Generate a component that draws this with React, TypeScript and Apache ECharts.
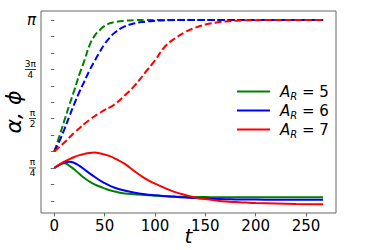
import React, { useEffect, useRef } from "react";
import * as echarts from "echarts";

const PI = Math.PI;
const T = [0, 5, 10, 15, 20, 25, 30, 35, 40, 45, 50, 55, 60, 70, 80, 90, 100, 110, 120, 130, 140, 150, 160, 170, 180, 190, 200, 220, 240, 267];

const phi5 = [1.047, 1.29, 1.54, 1.79, 2.03, 2.28, 2.5, 2.74, 2.89, 2.98, 3.05, 3.09, 3.11, 3.13, 3.14, 3.1416, 3.1416, 3.1416, 3.1416, 3.1416, 3.1416, 3.1416, 3.1416, 3.1416, 3.1416, 3.1416, 3.1416, 3.1416, 3.1416, 3.1416];
const phi6 = [1.047, 1.21, 1.4, 1.61, 1.81, 2.0, 2.17, 2.34, 2.49, 2.63, 2.76, 2.86, 2.94, 3.04, 3.09, 3.115, 3.13, 3.137, 3.1416, 3.1416, 3.1416, 3.1416, 3.1416, 3.1416, 3.1416, 3.1416, 3.1416, 3.1416, 3.1416, 3.1416];
const phi7 = [1.047, 1.12, 1.19, 1.27, 1.35, 1.42, 1.49, 1.55, 1.61, 1.66, 1.71, 1.75, 1.8, 1.94, 2.1, 2.3, 2.5, 2.72, 2.85, 2.95, 3.02, 3.07, 3.1, 3.12, 3.13, 3.137, 3.14, 3.1416, 3.1416, 3.1416];

const alpha5 = [0.785, 0.83, 0.86, 0.82, 0.76, 0.69, 0.625, 0.57, 0.525, 0.49, 0.46, 0.43, 0.41, 0.38, 0.366, 0.353, 0.343, 0.335, 0.33, 0.326, 0.323, 0.321, 0.32, 0.319, 0.318, 0.318, 0.318, 0.318, 0.318, 0.318];
const alpha6 = [0.785, 0.835, 0.875, 0.885, 0.865, 0.82, 0.76, 0.7, 0.645, 0.59, 0.545, 0.505, 0.47, 0.425, 0.39, 0.366, 0.35, 0.337, 0.326, 0.315, 0.305, 0.298, 0.292, 0.288, 0.285, 0.283, 0.282, 0.28, 0.28, 0.28];
const alpha7 = [0.785, 0.84, 0.885, 0.925, 0.96, 0.99, 1.01, 1.025, 1.03, 1.02, 1.0, 0.975, 0.94, 0.85, 0.73, 0.62, 0.535, 0.465, 0.4, 0.355, 0.315, 0.29, 0.27, 0.253, 0.242, 0.234, 0.227, 0.218, 0.212, 0.207];

const AR = [5, 6, 7];
const COLORS = ["#008000", "#0000ff", "#ff0000"];
const X_TICKS = [0, 50, 100, 150, 200, 250];
const Y_LABELS = [PI / 4, PI / 2, (3 * PI) / 4, PI];
const Y_TICKS = [1, 2, 3, 4, 5, 6, 7, 8, 9, 10, 11, 12].map((k) => (k * PI) / 12);

const FONT = "DejaVu Sans";

const pairs = (ys: number[]) => T.map((t, i) => [t, ys[i]]);

export default function App() {
  const ref = useRef<HTMLDivElement>(null);
  useEffect(() => {
    const chart = echarts.init(ref.current!, null, { renderer: "svg" });
    const phis = [phi5, phi6, phi7];
    const alphas = [alpha5, alpha6, alpha7];
    const series: any[] = [];
    AR.forEach((r, i) => {
      series.push({
        type: "line",
        name: "phi" + r,
        data: pairs(phis[i]),
        showSymbol: false,
        symbol: "none",
        smooth: 0.5,
        lineStyle: { color: COLORS[i], width: 2, type: [7, 3] },
        itemStyle: { color: COLORS[i] },
      });
      series.push({
        type: "line",
        name: "A_R = " + r,
        data: pairs(alphas[i]),
        showSymbol: false,
        symbol: "none",
        smooth: 0.5,
        lineStyle: { color: COLORS[i], width: 2 },
        itemStyle: { color: COLORS[i] },
      });
    });
    const fracLabel = (v: number) => {
      if (Math.abs(v - PI) < 1e-6) return "{p|π}";
      if (Math.abs(v - (3 * PI) / 4) < 1e-6) return "{n|3π}\n{b2| }\n{d|4}";
      if (Math.abs(v - PI / 2) < 1e-6) return "{n|π}\n{b| }\n{d|2}";
      if (Math.abs(v - PI / 4) < 1e-6) return "{n|π}\n{b| }\n{d|4}";
      return "";
    };
    chart.setOption({
      animation: false,
      grid: {
        left: 41,
        top: 11,
        right: 38,
        bottom: 37,
        show: true,
        borderColor: "#666",
        borderWidth: 1,
        backgroundColor: "transparent",
        containLabel: false,
        outerBoundsMode: "none",
      },
      legend: {
        data: AR.map((r) => "A_R = " + r),
        orient: "vertical",
        left: 232,
        top: 79,
        icon: "rect",
        itemWidth: 33,
        itemHeight: 2,
        itemGap: 1.5,
        formatter: (name: string) => "{a|A}{s|R}{e| = " + name.split("= ")[1] + "}",
        textStyle: {
          fontFamily: FONT,
          color: "#000",
          rich: {
            a: { fontFamily: FONT, fontSize: 15, fontStyle: "italic", lineHeight: 20, color: "#000", padding: [0, 0, 0, 5] },
            s: { fontFamily: FONT, fontSize: 10, fontStyle: "italic", lineHeight: 12, verticalAlign: "bottom", color: "#000" },
            e: { fontFamily: FONT, fontSize: 15, lineHeight: 20, color: "#000" },
          },
        },
      },
      xAxis: {
        type: "value",
        min: -13.2,
        max: 279.8,
        name: "t",
        nameLocation: "middle",
        nameGap: 14,
        nameMoveOverlap: false,
        nameTextStyle: { fontFamily: FONT, fontSize: 20, lineHeight: 18, fontStyle: "italic", color: "#000" },
        axisLine: { show: false },
        splitLine: { show: false },
        axisTick: { show: true, length: 3.5, customValues: X_TICKS, lineStyle: { color: "#666" } },
        axisLabel: {
          customValues: X_TICKS,
          margin: 5,
          fontFamily: FONT,
          fontSize: 15,
          color: "#000",
        },
      },
      yAxis: {
        type: "value",
        min: 0.068,
        max: 3.286,
        name: "α, ϕ",
        nameLocation: "middle",
        nameGap: 18,
        nameMoveOverlap: false,
        nameTextStyle: { fontFamily: FONT, fontSize: 22, lineHeight: 20, fontStyle: "italic", color: "#000" },
        axisLine: { show: false },
        splitLine: { show: false },
        axisTick: { show: true, length: 3.5, customValues: Y_TICKS, lineStyle: { color: "#666" } },
        axisLabel: {
          customValues: Y_LABELS,
          margin: 5,
          formatter: fracLabel,
          rich: {
            p: { fontFamily: FONT, fontSize: 15, fontStyle: "italic", color: "#000" },
            n: { fontFamily: FONT, fontSize: 9, lineHeight: 10, color: "#000", align: "center" },
            d: { fontFamily: FONT, fontSize: 9, lineHeight: 10, color: "#000", align: "center" },
            b: { fontSize: 1, lineHeight: 1, height: 0.8, width: 7, backgroundColor: "#000", align: "center" },
            b2: { fontSize: 1, lineHeight: 1, height: 0.8, width: 11, backgroundColor: "#000", align: "center" },
          },
        },
      },
      series,
    });
    return () => chart.dispose();
  }, []);
  return (
    <div
      ref={ref}
      style={{ position: "absolute", left: 0, top: 0, width: 374, height: 250 }}
    />
  );
}
